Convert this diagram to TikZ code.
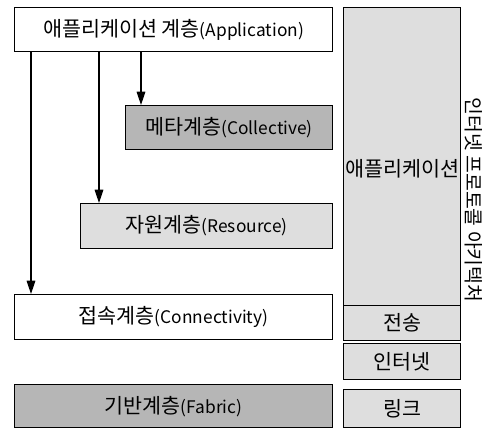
\documentclass[tikz,border=0pt]{standalone}
\usepackage{fontspec}
\setmainfont{Noto Sans CJK KR}
\usetikzlibrary{arrows.meta}
\definecolor{darklayer}{RGB}{182,182,182}
\definecolor{lightlayer}{RGB}{222,222,222}
\newcommand{\kr}[1]{{\fontsize{15.5pt}{17pt}\selectfont #1}}
\begin{document}
\begin{tikzpicture}[x=0.75pt,y=-0.75pt,
    layer/.style={draw,line width=0.9pt,inner sep=0pt,anchor=north west,
      font=\fontsize{13pt}{15pt}\selectfont},
    >={Triangle[length=10pt,width=6.5pt]}]
    \useasboundingbox (0,0) rectangle (490,428);
    % left column
    \node[layer,fill=white,minimum width=238.5pt,minimum height=33pt] (app) at (14,7) {\kr{애플리케이션 계층}(Application)};
    \node[layer,fill=darklayer,minimum width=155.25pt,minimum height=33pt] (meta) at (125,105) {\kr{메타계층}(Collective)};
    \node[layer,fill=lightlayer,minimum width=189pt,minimum height=33.75pt] (res) at (80,203) {\kr{자원계층}(Resource)};
    \node[layer,fill=white,minimum width=238.5pt,minimum height=33.75pt] (conn) at (14,294) {\kr{접속계층}(Connectivity)};
    \node[layer,fill=darklayer,minimum width=238.5pt,minimum height=32.5pt] (fabric) at (14,384) {\kr{기반계층}(Fabric)};
    % right column
    \node[layer,fill=lightlayer,minimum width=87.75pt,minimum height=223.5pt,
      label={[yshift=-9pt]center:\kr{애플리케이션}}] (rapp) at (343,7) {};
    \node[layer,fill=lightlayer,minimum width=87.75pt,minimum height=26.25pt] (trans) at (343,305) {\kr{전송}};
    \node[layer,fill=lightlayer,minimum width=87.75pt,minimum height=27pt] (inet) at (343,343) {\kr{인터넷}};
    \node[layer,fill=lightlayer,minimum width=87.75pt,minimum height=28.5pt] (link) at (343,389) {\kr{링크}};
    \node[rotate=-90,font=\fontsize{14.5pt}{16pt}\selectfont] (title) at (474,200) {인터넷 프로토콜 아키텍처};
    % arrows
    \coordinate (a1) at (31,0);
    \coordinate (a2) at (99,0);
    \coordinate (a3) at (141,0);
    \draw[->,line width=0.8pt] (app.south -| a1) -- (conn.north -| a1);
    \draw[->,line width=0.8pt] (app.south -| a2) -- (res.north -| a2);
    \draw[->,line width=0.8pt] (app.south -| a3) -- (meta.north -| a3);
\end{tikzpicture}
\end{document}
